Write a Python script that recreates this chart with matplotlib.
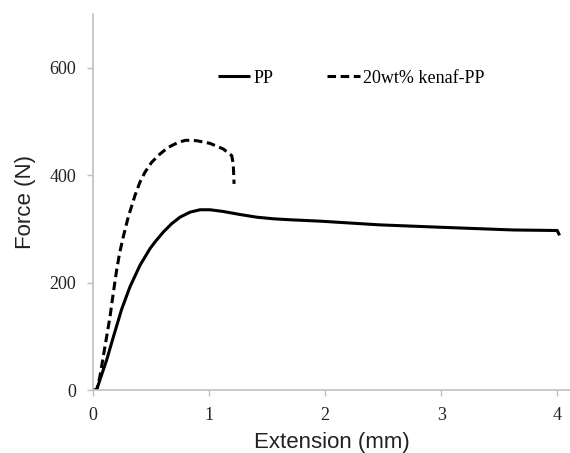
import matplotlib
matplotlib.use("Agg")
import matplotlib.pyplot as plt

pp_x = [0.0, 0.032, 0.06, 0.118, 0.175, 0.247, 0.319, 0.405, 0.491, 0.534, 0.606, 0.678, 0.75,
        0.836, 0.922, 1.009, 1.123, 1.267, 1.411, 1.554, 1.698, 1.957, 2.47, 3.0, 3.62, 4.0, 4.02]
pp_y = [0, 0, 18.6, 55.7, 98, 150, 192, 232, 263, 275.4, 294, 309.6, 321.8,
        331.1, 335.6, 335.6, 332.4, 326.8, 321.8, 318.8, 317, 314.4, 307.5, 303, 298, 297, 288]

kp_x = [0.0, 0.032, 0.06, 0.089, 0.118, 0.147, 0.175, 0.204, 0.23, 0.261, 0.304, 0.362, 0.405,
        0.448, 0.506, 0.578, 0.649, 0.735, 0.80, 0.894, 1.009, 1.123, 1.196, 1.209, 1.216]
kp_y = [0, 0, 24.7, 61.8, 99, 136, 179.6, 222.8, 255, 284.7, 321.8, 362, 386.8,
        405.4, 424, 439.5, 451.8, 461.1, 465, 464.2, 459.2, 448.8, 436.4, 421, 383.8]

x_ticks = [0, 1, 2, 3, 4]
y_ticks = [0, 200, 400, 600]

fig = plt.figure(figsize=(5.7, 4.53), dpi=100)
ax = fig.add_axes([0.163, 0.139, 0.837, 0.83])
ax.plot(pp_x, pp_y, color="black", lw=2.2, label="PP",
        solid_joinstyle="round", solid_capstyle="butt")
ax.plot(kp_x, kp_y, color="black", lw=2.2, ls=(0, (2.8, 1.5)), label="20wt% kenaf-PP",
        dash_joinstyle="round")
ax.set_xlim(0, 4.11)
ax.set_ylim(0, 700)
ax.set_xticks(x_ticks)
ax.set_yticks(y_ticks)
for s in ["top", "right"]:
    ax.spines[s].set_visible(False)
for s in ["left", "bottom"]:
    ax.spines[s].set_color("#c0c0c0")
    ax.spines[s].set_linewidth(1.2)
ax.tick_params(colors="#c0c0c0", length=4, width=1, labelcolor="#222222")
for lab in ax.get_xticklabels() + ax.get_yticklabels():
    lab.set_family("Liberation Serif")
    lab.set_fontsize(13)
ax.tick_params(axis="x", pad=8)
ax.tick_params(axis="y", pad=8)
ax.set_xlabel("Extension (mm)", family="Liberation Sans", fontsize=16, color="#222222", labelpad=6)
ax.set_ylabel("Force (N)", family="Liberation Sans", fontsize=16, color="#222222", labelpad=10)
leg = ax.legend(loc="upper left", bbox_to_anchor=(0.2275, 0.895), ncol=2, frameon=False,
                prop={"family": "Liberation Serif", "size": 13}, handlelength=1.8,
                handletextpad=0.2, columnspacing=2.95)
fig.savefig("out.png", dpi=100)
